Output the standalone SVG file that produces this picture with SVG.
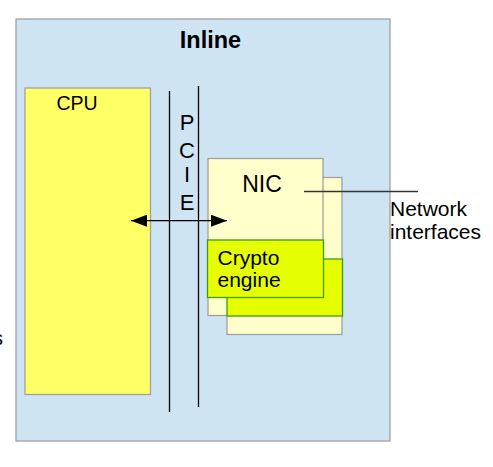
<svg xmlns="http://www.w3.org/2000/svg" width="493" height="467" viewBox="0 0 493 467">
<style>
text{font-family:"Liberation Sans",Arial,sans-serif;fill:#000}
.box{stroke:#a0a0a0;stroke-width:1.3}
.nic{fill:#ffffcc}
.cry{fill:#e6ff00;stroke:#3c9a1e;stroke-width:1.3}
.ln{stroke:#000;stroke-width:1.3;fill:none}
</style>
<defs>
<marker id="ah" viewBox="0 0 16 12" refX="16" refY="6" markerWidth="16" markerHeight="12" markerUnits="userSpaceOnUse" orient="auto-start-reverse">
<path d="M0,0 L16,6 L0,12 Z" fill="#000"/>
</marker>
</defs>
<text x="-7" y="345" font-size="20">s</text>
<g id="inline">
<rect x="16" y="19" width="374" height="422" class="box" fill="#cfe4f2"/>
<text x="210.5" y="48" font-size="23.5" font-weight="bold" text-anchor="middle">Inline</text>
</g>
<g id="cpu">
<rect x="25" y="88" width="125.5" height="306.5" class="box" fill="#ffff66"/>
<text x="77" y="110" font-size="19.5" text-anchor="middle">CPU</text>
</g>
<g id="pcie">
<line x1="169.5" y1="91" x2="169.5" y2="412" class="ln"/>
<line x1="198.5" y1="86" x2="198.5" y2="407" class="ln"/>
<g font-size="22" text-anchor="middle">
<text x="187" y="130">P</text>
<text x="187" y="157.5">C</text>
<text x="187" y="182">I</text>
<text x="187" y="210">E</text>
</g>
</g>
<g id="nic-back">
<rect x="227" y="177.5" width="115" height="157" class="box nic"/>
</g>
<g id="nic">
<rect x="208" y="158.5" width="115" height="157" class="box nic"/>
<text x="262" y="192" font-size="23" text-anchor="middle">NIC</text>
</g>
<g id="crypto-back">
<rect x="227" y="259" width="115.5" height="57" class="cry"/>
</g>
<g id="crypto">
<rect x="207.5" y="240" width="116" height="57.5" class="cry"/>
<text x="217.5" y="264.5" font-size="21">Crypto</text>
<text x="217.5" y="287" font-size="21">engine</text>
</g>
<g id="network">
<text x="390" y="216" font-size="21">Network</text>
<text x="390" y="239" font-size="21">interfaces</text>
</g>
<g id="connectors">
<line x1="131" y1="220.7" x2="227" y2="220.7" class="ln" marker-start="url(#ah)" marker-end="url(#ah)"/>
<line x1="304" y1="191.5" x2="418" y2="191.5" stroke="#333" stroke-width="1.3"/>
</g>
</svg>
